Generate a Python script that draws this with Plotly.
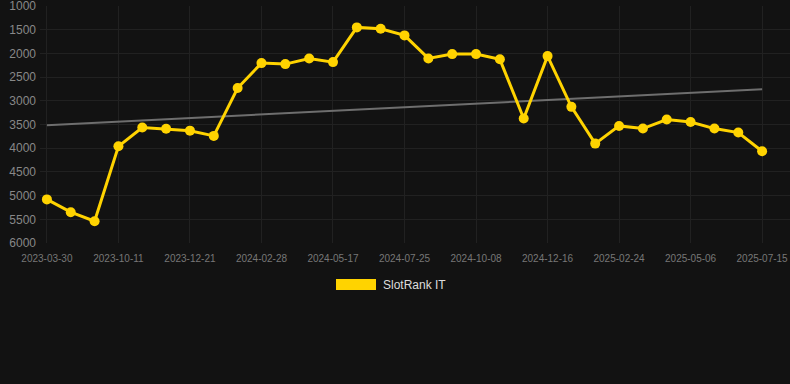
import plotly.graph_objects as go

dates = [
    "2023-03-30", "2023-05-20", "2023-07-10", "2023-10-11", "2023-11-03", "2023-11-27",
    "2023-12-21", "2024-01-13", "2024-02-05", "2024-02-28", "2024-03-25", "2024-04-20",
    "2024-05-17", "2024-06-08", "2024-07-02", "2024-07-25", "2024-08-18", "2024-09-13",
    "2024-10-08", "2024-10-31", "2024-11-23", "2024-12-16", "2025-01-08", "2025-02-01",
    "2025-02-24", "2025-03-19", "2025-04-12", "2025-05-06", "2025-05-29", "2025-06-22",
    "2025-07-15",
]
ranks = [
    5080, 5350, 5540, 3960, 3565, 3590, 3630, 3740, 2730, 2205, 2226, 2106,
    2184, 1451, 1479, 1620, 2106, 2015, 2015, 2125, 3374, 2057, 3128, 3903,
    3530, 3586, 3396, 3446, 3586, 3670, 4065,
]
trend = [3515, 2755]
tick_dates = dates[::3]
y_ticks = [1000, 1500, 2000, 2500, 3000, 3500, 4000, 4500, 5000, 5500, 6000]
series_name = "SlotRank IT"

GOLD = "#FFD300"
BG = "#121212"
GRID = "#212121"

fig = go.Figure()
fig.add_trace(go.Scatter(
    x=[dates[0], dates[-1]], y=trend, mode="lines",
    line=dict(color="#6e6e6e", width=2), hoverinfo="skip", showlegend=False,
))
fig.add_trace(go.Scatter(
    x=dates, y=ranks, mode="lines+markers", name=series_name,
    line=dict(color=GOLD, width=3),
    marker=dict(color=GOLD, size=10),
    showlegend=False,
))

# legend swatch + label
fig.add_shape(type="rect", xref="paper", yref="paper",
              x0=(336 - 40) / 750, x1=(376 - 40) / 750,
              y0=-(279 - 243) / 237, y1=-(290 - 243) / 237,
              fillcolor=GOLD, line=dict(width=0))
fig.add_annotation(text=series_name, xref="paper", yref="paper",
                   x=(381 - 40) / 750, y=-(284.5 - 243) / 237,
                   xanchor="left", yanchor="middle", showarrow=False,
                   font=dict(family="Liberation Sans, Arial", size=12, color="#dddddd"))

fig.update_layout(
    width=790, height=384,
    margin=dict(l=40, r=0, t=6, b=141),
    paper_bgcolor=BG, plot_bgcolor=BG,
    font=dict(family="Liberation Sans, Arial", color="#888888"),
    xaxis=dict(
        type="category", categoryorder="array", categoryarray=dates,
        range=[-0.29, 31.17],
        tickmode="array", tickvals=tick_dates, ticktext=tick_dates,
        tickfont=dict(size=10, color="#777777"),
        ticklabelstandoff=8, ticklabeloverflow="allow",
        showgrid=True, gridcolor=GRID, gridwidth=1,
        zeroline=False, showline=False, ticks="",
    ),
    yaxis=dict(
        range=[6000.01, 999.99], tickmode="array", tickvals=y_ticks,
        tickfont=dict(size=12, color="#888888"),
        ticklabelstandoff=3, ticklabeloverflow="allow",
        showgrid=True, gridcolor=GRID, gridwidth=1,
        zeroline=False, showline=False, ticks="",
    ),
    showlegend=False,
)

fig.write_html(
    "out.html",
    config={"displayModeBar": False},
    post_script="document.body.style.margin='0';document.body.style.background='#121212';",
)
